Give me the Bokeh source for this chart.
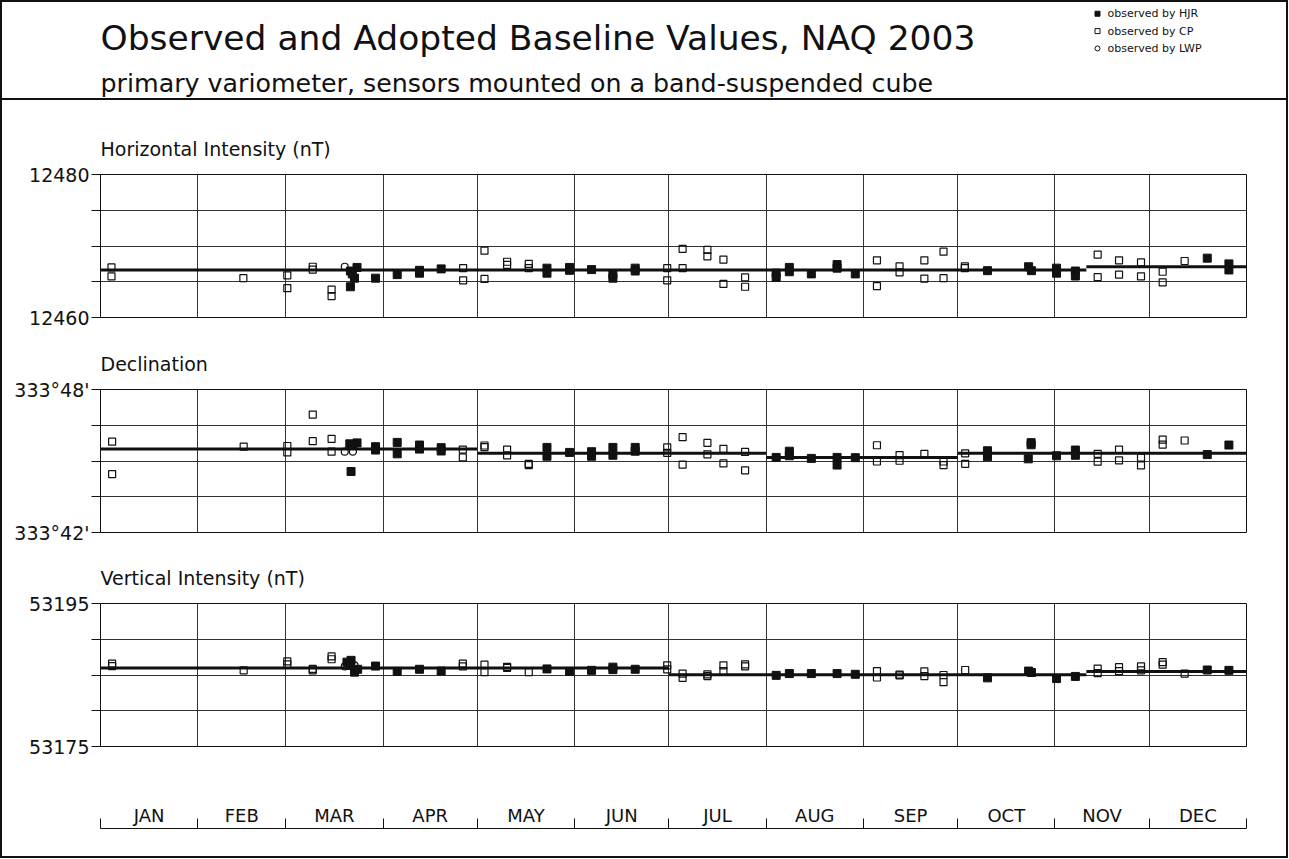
from bokeh.plotting import figure
from bokeh.layouts import column
from bokeh.models import Range1d, FixedTicker, Title
from bokeh.core.properties import value
from bokeh.embed import file_html
from bokeh.resources import INLINE

FONT = "DejaVu Sans"
INK = "#111111"
GRID = "#333333"

# ---------------- data ----------------
month_edges = [0, 31, 59, 90, 120, 151, 181, 212, 243, 273, 304, 334, 365]
month_names = ["JAN", "FEB", "MAR", "APR", "MAY", "JUN",
               "JUL", "AUG", "SEP", "OCT", "NOV", "DEC"]

title_text = "Observed and Adopted Baseline Values, NAQ 2003"
subtitle_text = "primary variometer, sensors mounted on a band-suspended cube"
legend_labels = ["observed by HJR", "observed by CP", "observed by LWP"]
panel_titles = ["Horizontal Intensity (nT)", "Declination", "Vertical Intensity (nT)"]

# Horizontal intensity (nT)
h_ticks = [12460, 12465, 12470, 12475, 12480]
h_tick_labels = ["12460", "", "", "", "12480"]
h_hjr_day = [79.6, 81.7, 80.9, 79.6, 80.2, 87.6, 94.5, 101.6, 101.6, 108.5,
             142.2, 142.2, 149.4, 149.4, 156.4, 163.2, 163.2, 170.3, 170.3,
             215.2, 215.2, 219.4, 219.4, 226.4, 234.6, 234.6, 240.4,
             282.5, 295.6, 296.5, 304.5, 304.5, 310.5, 310.5, 352.5, 359.4, 359.4]
h_hjr_val = [12464.3, 12467.0, 12465.5, 12466.5, 12466.1, 12465.5, 12466.0, 12466.6, 12466.2, 12466.8,
             12466.9, 12466.2, 12467.0, 12466.6, 12466.7, 12466.0, 12465.5, 12466.9, 12466.5,
             12466.2, 12465.6, 12467.0, 12466.4, 12466.1, 12467.4, 12466.9, 12466.1,
             12466.55, 12467.1, 12466.55, 12466.9, 12466.2, 12466.5, 12465.8, 12468.3, 12467.5, 12466.65]
h_cp_day = [3.5, 3.5, 45.5, 59.5, 59.5, 67.6, 67.6, 73.6, 73.6, 115.5, 115.5,
            122.3, 122.3, 129.5, 129.5, 136.4, 136.4, 180.5, 180.5, 185.4, 185.4,
            193.3, 193.3, 198.4, 198.4, 205.3, 205.3, 247.3, 247.3, 254.5, 254.5,
            262.4, 262.4, 268.5, 268.5, 275.3, 275.3, 317.6, 317.6, 324.4, 324.4,
            331.4, 331.4, 338.3, 338.3, 345.3]
h_cp_val = [12467.0, 12465.75, 12465.5, 12465.9, 12464.1, 12467.1, 12466.7, 12463.9, 12463.0, 12466.9, 12465.2,
            12469.35, 12465.4, 12467.8, 12467.35, 12467.5, 12466.9, 12466.9, 12465.2, 12469.6, 12466.9,
            12469.45, 12468.55, 12468.1, 12464.7, 12465.6, 12464.3, 12468.0, 12464.4, 12467.15, 12466.3,
            12468.0, 12465.45, 12469.2, 12465.5, 12467.15, 12466.9, 12468.8, 12465.65, 12468.0, 12466.0,
            12467.7, 12465.75, 12466.4, 12464.9, 12467.9]
h_lwp_day = [77.8]
h_lwp_val = [12467.1]
h_base_start = [0, 314]
h_base_end = [314, 365]
h_base_val = [12466.63, 12467.1]

# Declination (arc-minutes past 333 deg)
d_ticks = [42, 43.5, 45, 46.5, 48]
d_tick_labels = ["333°42'", "", "", "", "333°48'"]
d_hjr_day = [79.4, 81.7, 80.4, 79.8, 87.6, 87.6, 94.5, 94.5, 101.6, 101.6, 108.5, 108.5,
             142.2, 142.2, 149.4, 156.4, 156.4, 163.2, 163.2, 170.3, 170.3,
             215.2, 219.4, 219.4, 226.4, 234.6, 234.6, 240.4,
             282.5, 282.5, 296.4, 296.4, 295.5, 304.5, 310.5, 310.5, 352.5, 359.4]
d_hjr_val = [45.72, 45.76, 45.65, 44.56, 45.60, 45.46, 45.78, 45.30, 45.67, 45.50, 45.56, 45.42,
             45.57, 45.20, 45.36, 45.39, 45.20, 45.57, 45.24, 45.57, 45.41,
             45.15, 45.41, 45.22, 45.11, 45.15, 44.83, 45.14,
             45.43, 45.18, 45.77, 45.68, 45.09, 45.22, 45.46, 45.24, 45.27, 45.67]
d_cp_day = [3.7, 3.7, 45.6, 59.5, 59.5, 67.6, 67.6, 73.6, 73.6, 115.4, 115.4,
            122.3, 122.3, 129.5, 129.5, 136.4, 136.4, 180.5, 180.5, 185.4, 185.4,
            193.3, 193.3, 198.4, 198.4, 205.3, 205.3, 247.3, 247.3, 254.5, 254.5,
            262.4, 268.5, 268.5, 275.4, 275.4, 317.6, 317.6, 324.4, 324.4,
            331.4, 331.4, 338.3, 338.3, 345.3]
d_cp_val = [45.81, 44.45, 45.60, 45.63, 45.36, 46.95, 45.83, 45.93, 45.39, 45.48, 45.15,
            45.65, 45.58, 45.48, 45.24, 44.88, 44.83, 45.57, 45.34, 46.00, 44.85,
            45.76, 45.28, 45.51, 44.90, 45.38, 44.61, 45.66, 44.98, 45.25, 45.01,
            45.30, 44.98, 44.83, 45.32, 44.88, 45.30, 44.97, 45.48, 45.03,
            45.14, 44.82, 45.90, 45.69, 45.86]
d_lwp_day = [77.8, 80.4]
d_lwp_val = [45.39, 45.39]
d_base_start = [0, 120, 212, 273]
d_base_end = [120, 212, 273, 365]
d_base_val = [45.50, 45.32, 45.15, 45.32]

# Vertical intensity (nT)
z_ticks = [53175, 53180, 53185, 53190, 53195]
z_tick_labels = ["53175", "", "", "", "53195"]
z_hjr_day = [78.5, 79.8, 80.9, 81.9, 79.4, 87.6, 94.5, 101.6, 108.5,
             142.2, 149.4, 156.4, 163.2, 163.2, 170.3,
             215.2, 219.4, 226.4, 234.6, 240.4,
             282.5, 295.6, 296.5, 304.5, 310.5, 352.5, 359.4]
z_hjr_val = [53186.8, 53187.05, 53185.4, 53185.8, 53186.35, 53186.25, 53185.5, 53185.8, 53185.55,
             53185.85, 53185.5, 53185.65, 53186.1, 53185.75, 53185.8,
             53184.95, 53185.2, 53185.2, 53185.2, 53185.1,
             53184.6, 53185.55, 53185.35, 53184.5, 53184.8, 53185.7, 53185.65]
z_cp_day = [3.7, 3.7, 45.6, 59.5, 59.5, 67.6, 67.6, 73.6, 73.6, 115.4, 115.4,
            122.3, 122.3, 129.5, 129.5, 136.4, 180.5, 180.5, 185.4, 185.4,
            193.3, 193.3, 198.4, 198.4, 205.3, 205.3, 247.3, 247.3, 254.5, 254.5,
            262.4, 262.4, 268.5, 268.5, 275.4, 317.6, 317.6, 324.4, 324.4,
            331.4, 331.4, 338.3, 338.3, 345.3]
z_cp_val = [53186.6, 53186.25, 53185.65, 53186.9, 53186.5, 53185.85, 53185.65, 53187.6, 53187.2, 53186.6, 53186.2,
            53186.45, 53185.4, 53186.15, 53186.0, 53185.4, 53186.35, 53185.8, 53185.2, 53184.6,
            53185.1, 53184.85, 53186.35, 53185.55, 53186.5, 53186.2, 53185.55, 53184.65, 53185.05, 53184.95,
            53185.5, 53184.85, 53185.0, 53184.0, 53185.7, 53185.9, 53185.25, 53186.1, 53185.55,
            53186.2, 53185.65, 53186.8, 53186.45, 53185.2]
z_lwp_day = [77.8, 80.9]
z_lwp_val = [53186.2, 53186.35]
z_base_start = [0, 181, 314]
z_base_end = [181, 314, 365]
z_base_val = [53185.97, 53185.05, 53185.5]

# ---------------- layout ----------------
W = 1284
ML, MR = 98, 40
FW, FH = 1146, 143
HEAD_H = 96


def base_fig(**kw):
    p = figure(toolbar_location=None, output_backend="svg", **kw)
    p.background_fill_color = "white"
    p.border_fill_color = "white"
    return p


# header: frame aligned with panels, data units = page pixels
hd = base_fig(frame_width=FW, frame_height=HEAD_H,
              x_range=Range1d(ML + 2, ML + 2 + FW), y_range=Range1d(2 + HEAD_H, 2),
              min_border_left=ML, min_border_right=MR, min_border_top=0, min_border_bottom=0,
              x_axis_location=None, y_axis_location=None,
              styles={"border-bottom": "2px solid #111111"})
hd.outline_line_color = None
hd.grid.visible = False
hd.text(x=[100], y=[37], text=[title_text], text_font=value(FONT), text_font_size="34.5px",
        text_baseline="middle", text_align="left", text_color=INK)
hd.text(x=[100], y=[81], text=[subtitle_text], text_font=value(FONT), text_font_size="25.3px",
        text_baseline="middle", text_align="left", text_color=INK)
leg_y = [13, 30, 47]
hd.scatter(x=[1097], y=[leg_y[0]], marker="square", size=5, fill_color=INK, line_color=INK)
hd.scatter(x=[1097], y=[leg_y[1]], marker="square", size=5, fill_color=None, line_color=INK)
hd.scatter(x=[1097], y=[leg_y[2]], marker="circle", size=5, fill_color=None, line_color=INK)
hd.text(x=[1107] * 3, y=leg_y, text=legend_labels, text_font=value(FONT), text_font_size="11px",
        text_baseline="middle", text_align="left", text_color=INK)


def make_panel(name, lo, hi, ticks, tick_labels, top, bottom,
               hjr_d, hjr_v, cp_d, cp_v, lwp_d, lwp_v, bs, be, bv):
    p = base_fig(frame_width=FW, frame_height=FH, x_range=Range1d(0, 365), y_range=Range1d(lo, hi),
                 min_border_left=ML, min_border_right=MR, min_border_top=top, min_border_bottom=bottom,
                 x_axis_location=None, y_axis_location="left")
    p.outline_line_color = INK
    p.outline_line_width = 1
    ax = p.yaxis[0]
    ax.ticker = FixedTicker(ticks=ticks)
    ax.major_label_overrides = {t: s for t, s in zip(ticks, tick_labels)}
    ax.major_tick_out = 9
    ax.major_tick_in = 0
    ax.minor_tick_out = 0
    ax.minor_tick_in = 0
    ax.axis_line_color = INK
    ax.major_tick_line_color = INK
    ax.major_label_text_font = FONT
    ax.major_label_text_font_size = "19px"
    ax.major_label_text_color = INK
    ax.major_label_standoff = 2
    p.ygrid.ticker = FixedTicker(ticks=ticks[1:-1])
    p.ygrid.grid_line_color = GRID
    p.xgrid.ticker = FixedTicker(ticks=month_edges[1:-1])
    p.xgrid.grid_line_color = GRID
    p.segment(x0=bs, y0=bv, x1=be, y1=bv, line_width=3, line_color=INK)
    p.scatter(cp_d, cp_v, marker="square", size=7, fill_color=None, line_color=INK, line_width=1.2)
    p.scatter(lwp_d, lwp_v, marker="circle", size=7, fill_color=None, line_color=INK, line_width=1.2)
    p.scatter(hjr_d, hjr_v, marker="square", size=8, fill_color=INK, line_color=INK)
    p.add_layout(Title(text=name, align="left", text_font=FONT, text_font_size="19px",
                       text_font_style="normal", text_color=INK, standoff=30), "above")
    return p


pH = make_panel(panel_titles[0], 12460, 12480, h_ticks, h_tick_labels, 74, 17,
                h_hjr_day, h_hjr_val, h_cp_day, h_cp_val, h_lwp_day, h_lwp_val,
                h_base_start, h_base_end, h_base_val)
pD = make_panel(panel_titles[1], 42, 48, d_ticks, d_tick_labels, 55, 16,
                d_hjr_day, d_hjr_val, d_cp_day, d_cp_val, d_lwp_day, d_lwp_val,
                d_base_start, d_base_end, d_base_val)
pZ = make_panel(panel_titles[2], 53175, 53195, z_ticks, z_tick_labels, 55, 24,
                z_hjr_day, z_hjr_val, z_cp_day, z_cp_val, z_lwp_day, z_lwp_val,
                z_base_start, z_base_end, z_base_val)

# month axis
pm = base_fig(frame_width=FW, frame_height=38, x_range=Range1d(0, 365), y_range=Range1d(0, 38),
              min_border_left=ML, min_border_right=MR, min_border_top=20, min_border_bottom=28,
              y_axis_location=None)
pm.outline_line_color = None
pm.grid.visible = False
mx = pm.xaxis[0]
mx.ticker = FixedTicker(ticks=month_edges)
mx.major_label_overrides = {t: "" for t in month_edges}
mx.major_label_text_font_size = "1px"
mx.major_tick_in = 10
mx.major_tick_out = 0
mx.minor_tick_in = 0
mx.minor_tick_out = 0
mx.axis_line_color = INK
mx.major_tick_line_color = INK
month_centers = [(month_edges[i] + month_edges[i + 1]) / 2 for i in range(12)]
pm.text(x=month_centers, y=[13] * 12, text=month_names, text_font=value(FONT),
        text_font_size="18px", text_align="center", text_baseline="middle", text_color=INK)

layout = column(hd, pH, pD, pZ, pm, spacing=0, styles={"border": "2px solid #111111"})

open("out.html", "w").write(file_html(layout, INLINE))
